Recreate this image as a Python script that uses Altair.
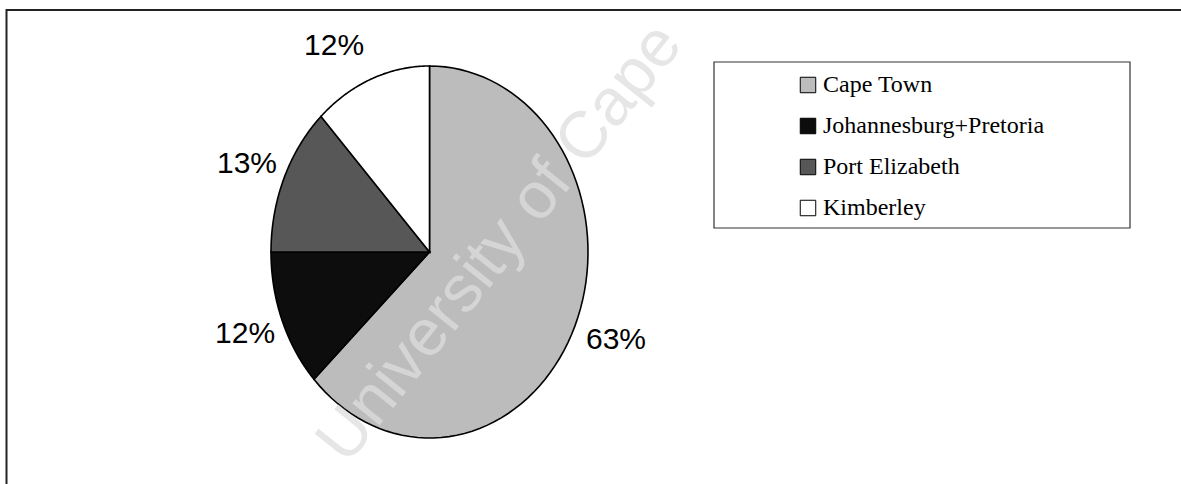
import altair as alt
import pandas as pd

# ---- data ----
cities = ["Cape Town", "Johannesburg+Pretoria", "Port Elizabeth", "Kimberley"]
shares = [63, 12, 13, 12]
colors = ["#bcbcbc", "#0d0d0d", "#575757", "#ffffff"]
watermark = ["University of Cape"]

df = pd.DataFrame({"city": cities, "pct": shares, "idx": list(range(len(cities)))})
wm = pd.DataFrame({"t": watermark})

W, H = 1181, 484
# scale domains so the (slightly oval, scanned) pie sits where it does in the reference
XDOM = [-2.7098, 4.7413]
YDOM = [-1.2473, 1.3548]
xs = alt.Scale(domain=XDOM, nice=False, zero=False)
ys = alt.Scale(domain=YDOM, nice=False, zero=False)

base = alt.Chart(df).transform_window(
    cum="sum(pct)", sort=[alt.SortField("idx")], frame=[None, 0]
).transform_joinaggregate(total="sum(pct)").transform_calculate(
    t0="(datum.cum - datum.pct) / datum.total * 2 * PI",
    t1="datum.cum / datum.total * 2 * PI",
)

NP = 80
slices = base.transform_calculate(
    pts=f"sequence(0, {NP + 2})"
).transform_flatten(["pts"]).transform_calculate(
    tt=f"datum.t0 + (datum.t1 - datum.t0) * min(datum.pts, {NP}) / {NP}",
).transform_calculate(
    px=f"datum.pts > {NP} ? 0 : sin(datum.tt)",
    py=f"datum.pts > {NP} ? 0 : cos(datum.tt)",
).mark_line(interpolate="linear-closed", stroke="black", strokeWidth=1.6).encode(
    x=alt.X("px:Q", scale=xs, axis=None),
    y=alt.Y("py:Q", scale=ys, axis=None),
    fill=alt.Fill(
        "city:N",
        scale=alt.Scale(domain=cities, range=colors),
        sort=cities,
        legend=alt.Legend(
            title=None, orient="none", legendX=796, legendY=73,
            symbolType="square", symbolSize=240, symbolStrokeColor="black", symbolStrokeWidth=1,
            labelOffset=3, labelFont="Liberation Serif", labelFontSize=24, labelColor="black",
            labelLimit=700, rowPadding=17, padding=0,
        ),
    ),
    order=alt.Order("pts:Q"),
)

labels_base = base.transform_calculate(
    tm="(datum.t0 + datum.t1) / 2",
).transform_calculate(
    lx="sin(datum.tm) + (sin(datum.tm) < 0 ? -1 : 1) * 7 / 158.5",
    ly="cos(datum.tm) * (1 + 36 / 186)",
    txt="datum.pct + '%'",
)

lab_left = labels_base.transform_filter("sin(datum.tm) < 0").mark_text(
    align="right", baseline="middle", font="Liberation Sans", fontSize=30, color="black"
).encode(x=alt.X("lx:Q", scale=xs, axis=None), y=alt.Y("ly:Q", scale=ys, axis=None), text="txt:N")

lab_right = labels_base.transform_filter("sin(datum.tm) >= 0").mark_text(
    align="left", baseline="middle", font="Liberation Sans", fontSize=30, color="black", dx=4
).encode(x=alt.X("lx:Q", scale=xs, axis=None), y=alt.Y("ly:Q", scale=ys, axis=None), text="txt:N")

# faint diagonal watermark of the scanned page
mark_wm = alt.Chart(wm).mark_text(
    font="Liberation Sans", fontSize=66, angle=308.7, color="#dedede", opacity=0.75,
    align="center", baseline="middle",
).encode(x=alt.value(500), y=alt.value(243), text="t:N")

# legend frame box
legend_box = alt.Chart(wm).mark_rect(fill="white", stroke="#333333", strokeWidth=1.2).encode(
    x=alt.value(714), x2=alt.value(1130), y=alt.value(62), y2=alt.value(228)
)

# scanned page frame (top and left edges only), drawn as thin filled bars
top_bar = alt.Chart(wm).mark_rect(fill="#222222", strokeWidth=0).encode(
    x=alt.value(6), x2=alt.value(W), y=alt.value(9), y2=alt.value(11)
)
left_bar = alt.Chart(wm).mark_rect(fill="#222222", strokeWidth=0).encode(
    x=alt.value(5.5), x2=alt.value(7.5), y=alt.value(9), y2=alt.value(H)
)

chart = alt.layer(top_bar, left_bar, legend_box, slices, mark_wm, lab_left, lab_right).properties(
    width=W, height=H, padding=0, autosize=alt.AutoSizeParams(type="none")
).configure(background="white").configure_view(strokeWidth=0, stroke="transparent")

chart.save("out.html", embed_options={"renderer": "svg", "actions": False})
